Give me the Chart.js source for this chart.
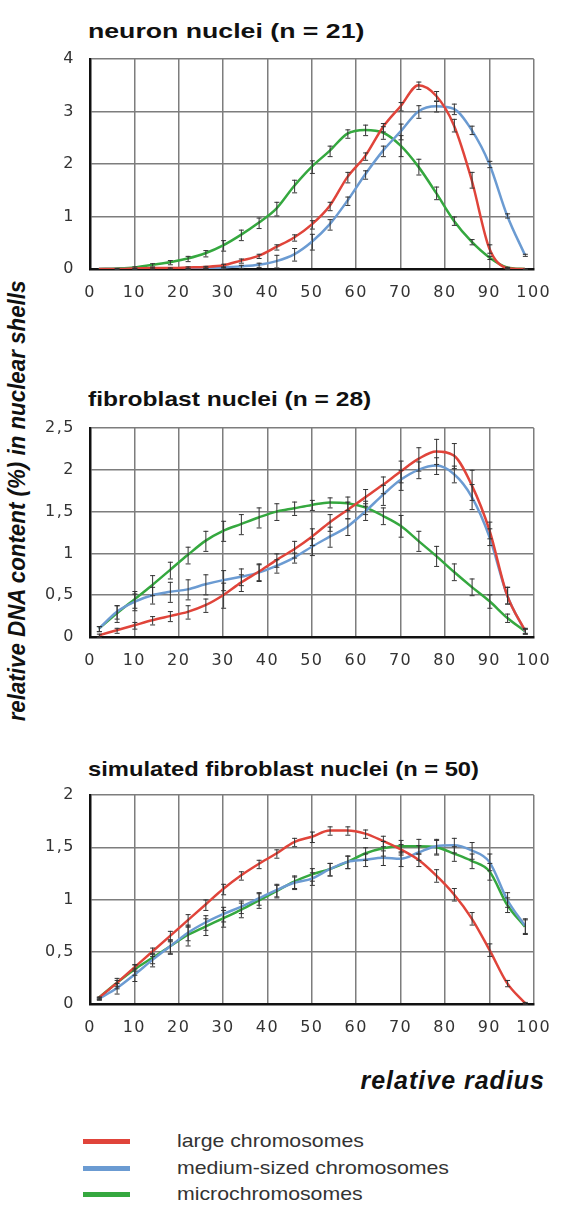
<!DOCTYPE html>
<html>
<head>
<meta charset="utf-8">
<script src="https://cdn.jsdelivr.net/npm/chart.js@4/dist/chart.umd.min.js"></script>
<style>
  html, body { margin:0; padding:0; background:#fff; }
  body { width:563px; height:1210px; position:relative; overflow:hidden; font-family:"Liberation Sans", Arial, sans-serif; }
  canvas { position:absolute; left:0; }
  .ttl { position:absolute; left:88px; font-weight:bold; font-size:21px; line-height:24px; color:#111; white-space:nowrap; transform-origin:0 50%; }
  .ytitle { position:absolute; width:560px; left:-263px; top:487px; height:28px; line-height:28px; text-align:center;
            font-weight:bold; font-style:italic; font-size:24px; color:#111; transform:rotate(-90deg) scaleX(0.93); white-space:nowrap; }
  .xtitle { position:absolute; right:18px; top:1066px; font-weight:bold; font-style:italic; font-size:25px; line-height:28px; letter-spacing:1px; color:#111; }
  .legline { position:absolute; left:83px; width:47px; height:5px; }
  .legtxt { position:absolute; left:177px; font-size:19px; line-height:22px; color:#333; white-space:nowrap; transform:scaleX(1.12); transform-origin:0 50%; }
</style>
</head>
<body>
<div class="ttl" style="top:19px;transform:scaleX(1.27)">neuron nuclei (n = 21)</div>
<div class="ttl" style="top:387px;transform:scaleX(1.17)">fibroblast nuclei (n = 28)</div>
<div class="ttl" style="top:757px;transform:scaleX(1.13)">simulated fibroblast nuclei (n = 50)</div>
<div class="ytitle">relative DNA content (%) in nuclear shells</div>
<div class="xtitle">relative radius</div>

<canvas id="c1"></canvas>
<canvas id="c2"></canvas>
<canvas id="c3"></canvas>

<div class="legline" style="top:1139px;background:#e0443a"></div>
<div class="legtxt" style="top:1130px">large chromosomes</div>
<div class="legline" style="top:1166px;background:#6b9bd2"></div>
<div class="legtxt" style="top:1157px">medium-sized chromosomes</div>
<div class="legline" style="top:1192px;background:#35a83f"></div>
<div class="legtxt" style="top:1183px">microchromosomes</div>

<script>
// ---------- DATA ----------
const xValues = [2,6,10,14,18,22,26,30,34,38,42,46,50,54,58,62,66,70,74,78,82,86,90,94,98];
const seriesNames = ["large chromosomes", "medium-sized chromosomes", "microchromosomes"];

// Panel 1: neuron nuclei (n = 21)
const neuronLarge  = [0,0,0.01,0.02,0.02,0.03,0.04,0.07,0.16,0.25,0.42,0.6,0.85,1.2,1.75,2.15,2.7,3.1,3.5,3.3,2.74,1.7,0.39,0.02,0];
const neuronMedium = [0,0,0,0,0,0.01,0.02,0.03,0.05,0.08,0.15,0.28,0.52,0.85,1.3,1.8,2.25,2.62,3.0,3.1,3.05,2.65,2.0,1.02,0.27];
const neuronMicro  = [0,0.01,0.03,0.08,0.13,0.2,0.3,0.45,0.65,0.88,1.15,1.58,1.95,2.25,2.58,2.65,2.6,2.35,1.95,1.45,0.92,0.52,0.22,0.03,0];
const neuronLargeErr  = [0,0,0.01,0.01,0.01,0.02,0.02,0.03,0.04,0.04,0.05,0.06,0.08,0.08,0.1,0.07,0.08,0.08,0.07,0.09,0.12,0.15,0.08,0.02,0.01];
const neuronMediumErr = [0,0,0,0,0,0.01,0.01,0.02,0.03,0.04,0.12,0.12,0.15,0.1,0.08,0.08,0.1,0.15,0.12,0.1,0.1,0.08,0.06,0.04,0.02];
const neuronMicroErr  = [0,0.01,0.02,0.03,0.04,0.05,0.06,0.1,0.1,0.1,0.13,0.12,0.12,0.1,0.08,0.1,0.12,0.2,0.15,0.12,0.08,0.05,0.03,0.01,0];

// Panel 2: fibroblast nuclei (n = 28)
const fibroLarge  = [0.02,0.08,0.14,0.2,0.25,0.3,0.38,0.5,0.65,0.78,0.92,1.05,1.2,1.37,1.52,1.67,1.82,1.98,2.13,2.22,2.17,1.82,1.28,0.5,0.08];
const fibroMedium = [0.1,0.3,0.42,0.5,0.54,0.57,0.63,0.68,0.72,0.77,0.85,0.95,1.08,1.2,1.32,1.5,1.7,1.88,2.0,2.05,1.95,1.68,1.2,0.5,0.07];
const fibroMicro  = [0.1,0.28,0.45,0.62,0.8,0.98,1.15,1.27,1.35,1.43,1.5,1.54,1.58,1.61,1.6,1.55,1.45,1.33,1.15,0.97,0.78,0.6,0.43,0.23,0.07];
const fibroLargeErr  = [0.02,0.03,0.04,0.05,0.06,0.08,0.08,0.15,0.1,0.1,0.08,0.1,0.1,0.1,0.1,0.1,0.1,0.13,0.14,0.15,0.15,0.18,0.1,0.1,0.03];
const fibroMediumErr = [0.03,0.08,0.1,0.1,0.12,0.12,0.12,0.12,0.1,0.1,0.08,0.06,0.1,0.12,0.1,0.1,0.12,0.12,0.1,0.1,0.1,0.15,0.1,0.1,0.03];
const fibroMicroErr  = [0.03,0.1,0.1,0.12,0.1,0.1,0.12,0.12,0.12,0.12,0.1,0.08,0.06,0.06,0.08,0.08,0.1,0.13,0.12,0.12,0.1,0.1,0.08,0.05,0.03];

// Panel 3: simulated fibroblast nuclei (n = 50)
const simLarge  = [0.06,0.2,0.35,0.5,0.65,0.8,0.95,1.1,1.23,1.34,1.44,1.55,1.6,1.66,1.66,1.63,1.56,1.48,1.38,1.23,1.05,0.82,0.52,0.2,0.01];
const simMedium = [0.05,0.15,0.28,0.42,0.55,0.68,0.78,0.86,0.93,1.01,1.09,1.16,1.2,1.29,1.36,1.38,1.4,1.39,1.45,1.51,1.52,1.47,1.36,1.0,0.75];
const simMicro  = [0.06,0.2,0.33,0.44,0.55,0.66,0.74,0.82,0.9,0.99,1.08,1.17,1.24,1.29,1.36,1.44,1.49,1.51,1.51,1.5,1.44,1.37,1.27,0.95,0.74];
const simLargeErr  = [0.01,0.03,0.03,0.04,0.05,0.06,0.05,0.05,0.04,0.04,0.04,0.04,0.05,0.04,0.04,0.04,0.05,0.05,0.06,0.06,0.06,0.06,0.06,0.03,0.01];
const simMediumErr = [0.01,0.05,0.06,0.06,0.07,0.07,0.07,0.07,0.06,0.06,0.06,0.06,0.06,0.06,0.06,0.06,0.07,0.07,0.07,0.07,0.07,0.08,0.08,0.07,0.07];
const simMicroErr  = [0.01,0.05,0.05,0.05,0.06,0.1,0.08,0.08,0.07,0.07,0.06,0.06,0.06,0.06,0.06,0.06,0.07,0.06,0.07,0.07,0.07,0.07,0.08,0.07,0.07];

const xTickValues = [0,10,20,30,40,50,60,70,80,90,100];
const yTicksNeuron = [0,1,2,3,4];
const yTicksFibro  = [0,0.5,1,1.5,2,2.5];
const yTicksSim    = [0,0.5,1,1.5,2];

// ---------- STYLE ----------
const COLORS = ["#e0443a", "#6b9bd2", "#35a83f"];
const TICK_FONT = { family: '"DejaVu Sans", "Liberation Sans", Arial, sans-serif', size: 16 };

const spacingPlugin = {
  id: 'spacing',
  beforeDraw(chart) { if ('letterSpacing' in chart.ctx) chart.ctx.letterSpacing = '1.5px'; },
  afterDraw(chart) { if ('letterSpacing' in chart.ctx) chart.ctx.letterSpacing = '0px'; }
};

const errorBarPlugin = {
  id: 'errorBars',
  afterDatasetsDraw(chart) {
    const ctx = chart.ctx;
    const xs = chart.scales.x, ys = chart.scales.y;
    ctx.save();
    ctx.strokeStyle = '#333';
    ctx.lineWidth = 1;
    chart.data.datasets.forEach((ds) => {
      ds.errors.forEach((e, j) => {
        if (!e) return;
        const v = ds.data[j].y;
        const px = xs.getPixelForValue(ds.data[j].x);
        const y1 = ys.getPixelForValue(Math.max(0, v - e));
        const y2 = ys.getPixelForValue(v + e);
        ctx.beginPath();
        ctx.moveTo(px + 0.5, y1); ctx.lineTo(px + 0.5, y2);
        ctx.moveTo(px - 2, y1 + 0.5); ctx.lineTo(px + 3, y1 + 0.5);
        ctx.moveTo(px - 2, y2 + 0.5); ctx.lineTo(px + 3, y2 + 0.5);
        ctx.stroke();
      });
    });
    ctx.restore();
  }
};

function makePanel(id, areaTop, areaBottom, yTicks, series, errs) {
  const canvasTop = areaTop - 40;
  const H = (areaBottom - areaTop) + 40 + 40;
  const cv = document.getElementById(id);
  cv.width = 563; cv.height = H;
  cv.style.top = canvasTop + 'px';
  cv.style.width = '563px'; cv.style.height = H + 'px';
  const localBottom = areaBottom - canvasTop;
  const yMax = yTicks[yTicks.length - 1];
  new Chart(cv, {
    type: 'line',
    data: {
      datasets: series.map((s, i) => ({
        label: seriesNames[i],
        data: xValues.map((x, j) => ({ x: x, y: s[j] })),
        errors: errs[i],
        borderColor: COLORS[i],
        borderWidth: 2.5,
        pointRadius: 0,
        fill: false,
        cubicInterpolationMode: 'monotone'
      }))
    },
    options: {
      responsive: false,
      animation: false,
      devicePixelRatio: 1,
      layout: { padding: { top: 40, left: 0, right: 20, bottom: 0 } },
      plugins: { legend: { display: false }, tooltip: { enabled: false }, title: { display: false } },
      scales: {
        x: {
          type: 'linear', min: 0, max: 100,
          afterBuildTicks: (sc) => { sc.ticks = xTickValues.map(v => ({ value: v })); },
          afterFit: (sc) => { sc.height = H - localBottom; },
          grid: { color: '#7d7d7d', lineWidth: 1.5, drawTicks: false },
          border: { color: '#111', width: 2.5 },
          ticks: { padding: 14, maxRotation: 0, autoSkip: false, color: '#333', font: TICK_FONT }
        },
        y: {
          type: 'linear', min: 0, max: yMax,
          afterBuildTicks: (sc) => { sc.ticks = yTicks.map(v => ({ value: v })); },
          afterFit: (sc) => { sc.width = 90; },
          grid: { color: '#7d7d7d', lineWidth: 1.5, drawTicks: false },
          border: { color: '#111', width: 2.5 },
          ticks: { padding: 15, color: '#333', font: TICK_FONT,
                   callback: (v) => String(v).replace('.', ',') }
        }
      }
    },
    plugins: [spacingPlugin, errorBarPlugin]
  });
}

makePanel('c1', 59, 269, yTicksNeuron,
  [neuronLarge, neuronMedium, neuronMicro], [neuronLargeErr, neuronMediumErr, neuronMicroErr]);
makePanel('c2', 428, 637, yTicksFibro,
  [fibroLarge, fibroMedium, fibroMicro], [fibroLargeErr, fibroMediumErr, fibroMicroErr]);
makePanel('c3', 795, 1004, yTicksSim,
  [simLarge, simMedium, simMicro], [simLargeErr, simMediumErr, simMicroErr]);
</script>
</body>
</html>
